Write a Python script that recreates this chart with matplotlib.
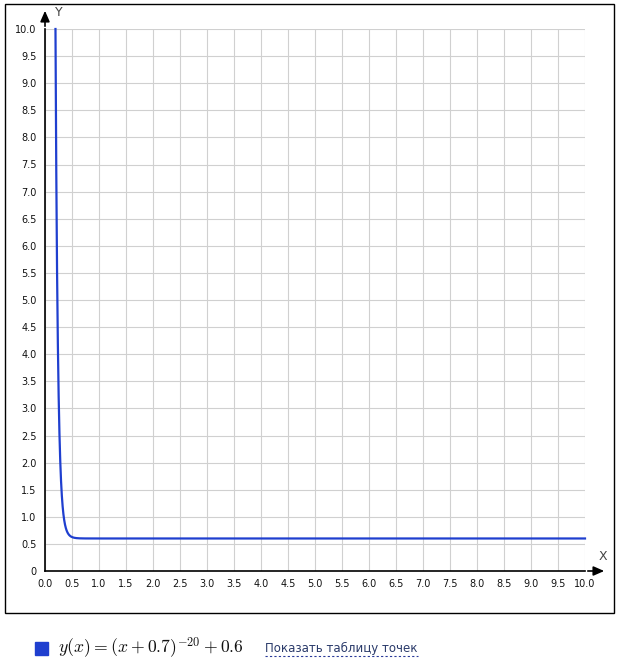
import numpy as np
import matplotlib.pyplot as plt
from matplotlib.patches import Rectangle

plt.rcParams["mathtext.fontset"] = "cm"

# function shown in the legend: y = (x + 0.7)^-20 + 0.6
shift = 0.7
power = -20
offset = 0.6
x_min, x_max = 0.0, 10.0
y_min, y_max = 0.0, 10.0
x_ticks = [i * 0.5 for i in range(21)]
y_ticks = [i * 0.5 for i in range(21)]
x_labels = ["%.1f" % t for t in x_ticks]
y_labels = ["0"] + ["%.1f" % t for t in y_ticks[1:]]

W, H = 618, 663
fig = plt.figure(figsize=(W / 100, H / 100), dpi=100)

# outer frame
fig.patches.append(Rectangle((5 / W, (H - 613) / H), 609 / W, 609 / H,
                             transform=fig.transFigure, fill=False,
                             edgecolor="black", linewidth=1))

ax = fig.add_axes([45 / W, (H - 571) / H, 540 / W, 542 / H])
ax.set_xlim(x_min, x_max)
ax.set_ylim(y_min, y_max)

x_start = (y_max - offset) ** (1 / power) - shift
xs = np.linspace(x_start, x_max, 2000)
ys = (xs + shift) ** power + offset
ax.plot(xs, ys, color="#1f3fcf", linewidth=1.6, clip_on=False, zorder=3)

ax.set_xticks(x_ticks)
ax.set_yticks(y_ticks)
ax.set_xticklabels(x_labels, fontsize=7, color="#111111")
ax.set_yticklabels(y_labels, fontsize=7, color="#111111")
ax.tick_params(length=0, pad=6)
ax.grid(True, color="#d0d0d0", linewidth=0.8)
for s in ["top", "right"]:
    ax.spines[s].set_visible(False)
ax.spines["left"].set_linewidth(1.2)
ax.spines["bottom"].set_linewidth(1.2)

# axis arrows
arrow = dict(arrowstyle="-|>,head_length=0.8,head_width=0.35",
             color="black", lw=1.2, mutation_scale=8)
ax.annotate("", xy=(607 / W, (H - 571) / H), xytext=(585 / W, (H - 571) / H),
            xycoords="figure fraction", arrowprops=arrow)
ax.annotate("", xy=(45 / W, (H - 8) / H), xytext=(45 / W, (H - 29) / H),
            xycoords="figure fraction", arrowprops=arrow)
fig.text(599 / W, (H - 557) / H, "X", fontsize=9, color="#444444", ha="left", va="center")
fig.text(55 / W, (H - 13) / H, "Y", fontsize=9, color="#444444", ha="left", va="center")

# legend below
fig.patches.append(Rectangle((35 / W, (H - 655) / H), 13 / W, 13 / H,
                             transform=fig.transFigure, color="#1f3fcf"))
fig.text(58 / W, (H - 648) / H, r"$y(x) = (x + 0.7)^{-20} + 0.6$",
         fontsize=12.7, color="#111111", ha="left", va="center")
fig.text(265 / W, (H - 648) / H, "Показать таблицу точек",
         fontsize=8.5, color="#2a3a6a", ha="left", va="center")
fig.lines.append(plt.Line2D([265 / W, 418 / W], [(H - 656) / H, (H - 656) / H],
                            transform=fig.transFigure, color="#2a3a9a",
                            linewidth=0.8, linestyle=(0, (2, 2))))

fig.savefig("out.png", dpi=100)
